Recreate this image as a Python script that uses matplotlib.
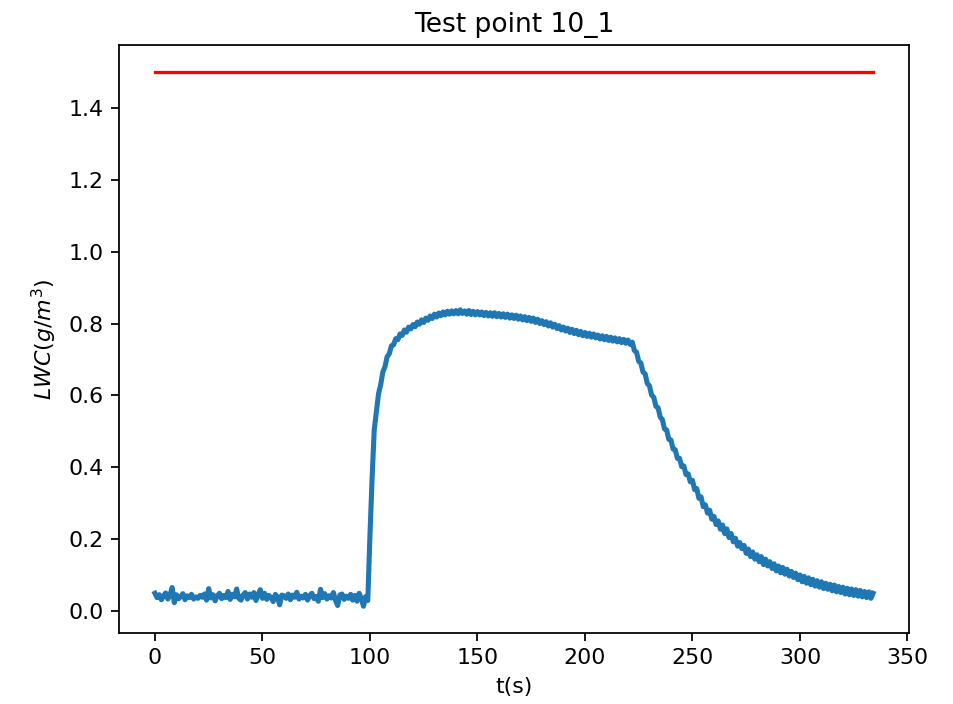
import matplotlib
matplotlib.use('Agg')
import matplotlib.pyplot as plt
import numpy as np

# LWC samples, one per second (t = 0 .. 334 s)
lwc_base = [
    0.050, 0.038, 0.046, 0.032, 0.043, 0.051, 0.034, 0.045, 0.066, 0.024,
    0.046, 0.035, 0.041, 0.049, 0.032, 0.043, 0.038, 0.047, 0.034, 0.040,
    0.036, 0.044, 0.039, 0.048, 0.031, 0.063, 0.037, 0.046, 0.029, 0.043,
    0.050, 0.035, 0.044, 0.038, 0.055, 0.033, 0.047, 0.040, 0.062, 0.036,
    0.031, 0.045, 0.052, 0.034, 0.048, 0.039, 0.052, 0.030, 0.046, 0.060,
    0.036, 0.050, 0.033, 0.044, 0.038, 0.027, 0.047, 0.040, 0.018, 0.045,
    0.043, 0.036, 0.048, 0.032, 0.045, 0.039, 0.053, 0.034, 0.042, 0.037,
    0.047, 0.031, 0.044, 0.050, 0.035, 0.041, 0.028, 0.061, 0.038, 0.049,
    0.034, 0.043, 0.037, 0.052, 0.030, 0.016, 0.045, 0.048, 0.033, 0.042,
    0.036, 0.047, 0.031, 0.044, 0.028, 0.050, 0.035, 0.014, 0.041, 0.030,
]
lwc_spray = [
    0.210, 0.370, 0.505, 0.555, 0.605, 0.630, 0.665, 0.680, 0.708, 0.716,
    0.738, 0.741, 0.758, 0.755, 0.771, 0.767, 0.782, 0.776, 0.790, 0.785,
    0.797, 0.791, 0.804, 0.798, 0.810, 0.803, 0.815, 0.809, 0.821, 0.814,
    0.826, 0.818, 0.829, 0.822, 0.832, 0.824, 0.834, 0.826, 0.835, 0.827,
    0.836, 0.827, 0.838, 0.828, 0.835, 0.826, 0.836, 0.825, 0.834, 0.824,
    0.833, 0.824, 0.832, 0.822, 0.831, 0.821, 0.830, 0.820, 0.830, 0.819,
    0.828, 0.818, 0.827, 0.817, 0.826, 0.815, 0.824, 0.814, 0.823, 0.812,
    0.821, 0.810, 0.819, 0.808, 0.817, 0.806, 0.815, 0.803, 0.812, 0.800,
    0.808, 0.797, 0.805, 0.793, 0.802, 0.790, 0.798, 0.786, 0.794, 0.782,
    0.790, 0.779, 0.787, 0.775, 0.784, 0.772, 0.781, 0.769, 0.778, 0.766,
    0.775, 0.764, 0.773, 0.762, 0.771, 0.760, 0.768, 0.757, 0.766, 0.755,
    0.764, 0.753, 0.762, 0.751, 0.760, 0.749, 0.758, 0.747, 0.756, 0.745,
]
lwc_decay = [
    0.754, 0.742, 0.748, 0.725, 0.720, 0.695, 0.690, 0.665, 0.660, 0.633,
    0.627, 0.601, 0.595, 0.570, 0.566, 0.540, 0.533, 0.507, 0.504, 0.478,
    0.476, 0.451, 0.449, 0.425, 0.425, 0.402, 0.404, 0.380, 0.382, 0.360,
    0.364, 0.338, 0.341, 0.314, 0.318, 0.291, 0.296, 0.273, 0.281, 0.256,
    0.264, 0.241, 0.251, 0.228, 0.240, 0.216, 0.229, 0.205, 0.216, 0.193,
    0.203, 0.181, 0.191, 0.174, 0.183, 0.161, 0.173, 0.152, 0.165, 0.145,
    0.157, 0.138, 0.152, 0.130, 0.145, 0.126, 0.138, 0.119, 0.132, 0.112,
    0.126, 0.107, 0.122, 0.103, 0.117, 0.098, 0.111, 0.094, 0.106, 0.088,
    0.101, 0.082, 0.097, 0.078, 0.093, 0.074, 0.089, 0.070, 0.085, 0.067,
    0.082, 0.063, 0.078, 0.061, 0.075, 0.057, 0.073, 0.054, 0.069, 0.052,
    0.067, 0.048, 0.064, 0.046, 0.062, 0.044, 0.060, 0.042, 0.058, 0.040,
    0.055, 0.038, 0.054, 0.036, 0.050,
]
target_lwc = 1.5

lwc = np.array(lwc_base + lwc_spray + lwc_decay)
t = np.arange(len(lwc))  # 1 sample per second

dpi = 159
fig = plt.figure(figsize=(953 / dpi, 704 / dpi), dpi=dpi)
ax = fig.add_axes([0.1249, 0.1009, 0.8289, 0.8352])

# thicker line stands in for the dense noise band of the raw signal
ax.plot(t, lwc, color='#1f77b4', linewidth=2.3)
ax.plot(t, np.full(len(t), target_lwc), color='red', linewidth=1.5)

ax.set_title('Test point 10_1')
ax.set_xlabel('t(s)')
ax.set_ylabel('$LWC(g/m^3)$')
ax.set_xticks(np.arange(0, 351, 50))
ax.set_yticks(np.arange(0, 1.41, 0.2))

fig.savefig('out.png', dpi=dpi)
